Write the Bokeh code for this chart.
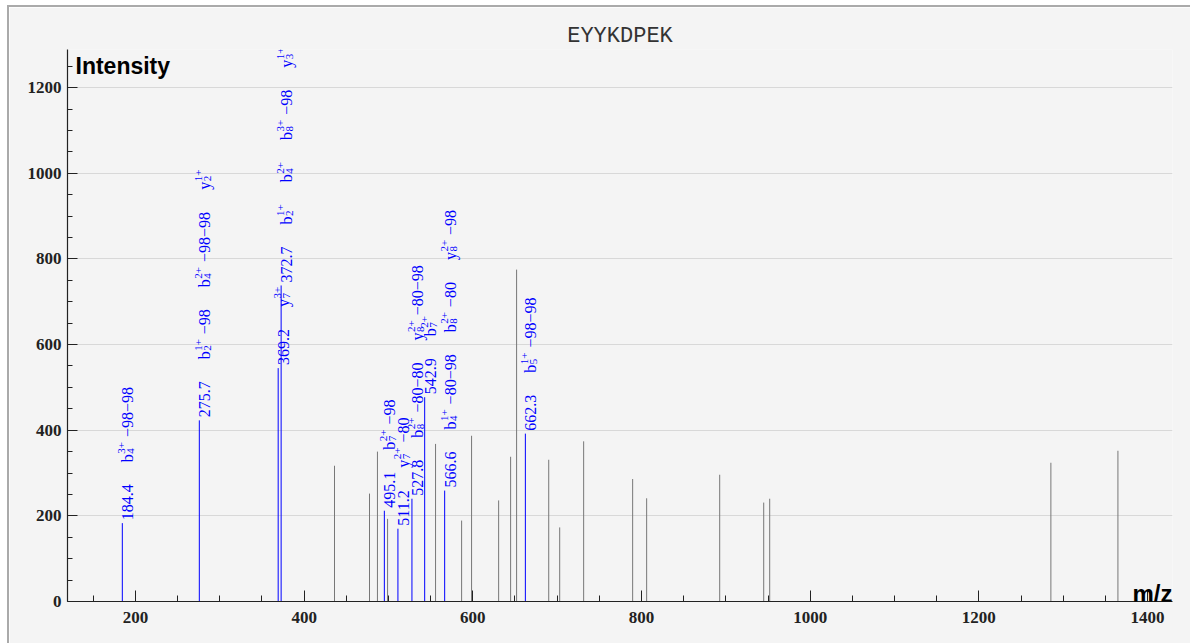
import numpy as np
from bokeh.plotting import figure
from bokeh.models import ColumnDataSource, Label, Range1d, SingleIntervalTicker
from bokeh.embed import file_html
from bokeh.resources import INLINE
from bokeh.core.properties import value

title_text = "EYYKDPEK"
x_label = "m/z"
y_label = "Intensity"

# unannotated peaks
other_mz = [436.0, 477.5, 486.9, 498.9, 555.8, 586.7, 598.5, 630.6, 644.8, 651.9,
            690.0, 703.0, 731.4, 789.5, 806.1, 892.7, 944.9, 952.0, 1285.4, 1364.9]
other_int = [317, 252, 350, 193, 368, 189, 387, 236, 338, 775,
             331, 173, 374, 286, 241, 296, 231, 240, 324, 352]

# annotated peaks
ann_mz = [184.4, 275.7, 369.2, 372.7, 495.1, 511.2, 527.8, 542.9, 566.6, 662.3]
ann_int = [183, 423, 545, 738, 212, 170, 240, 477, 259, 392]
# (ion, subscript, superscript, suffix)
ann_labels = [
    [("b", "4", "3+", "−98−98")],
    [("b", "2", "1+", "−98"), ("b", "4", "2+", "−98−98"), ("y", "2", "1+", "")],
    [("y", "7", "3+", "")],
    [("b", "2", "1+", ""), ("b", "4", "2+", ""), ("b", "8", "3+", "−98"), ("y", "3", "1+", "")],
    [("b", "7", "2+", "−98")],
    [("y", "7", "2+", "−80")],
    [("b", "8", "2+", "−80−80"), ("y", "8", "2+", "−80−98")],
    [("b", "7", "2+", "")],
    [("b", "4", "1+", "−80−98"), ("b", "8", "2+", "−80"), ("y", "8", "2+", "−98")],
    [("b", "5", "1+", "−98−98")],
]

x_ticks_interval = 200
y_ticks_interval = 200

BG = "#f4f4f4"
BLUE = "#0000ff"
GRAY = "#777777"
SERIF = "Liberation Serif"
MONO = "'Courier New', Courier, 'Nimbus Mono PS', FreeMono, 'Liberation Mono', monospace"

# character advance widths (em) for Liberation Serif
CW = {c: 0.5 for c in "0123456789by"}
CW.update({".": 0.25, "+": 0.564, "−": 0.564, " ": 0.25})


def tw(s, size):
    return sum(CW.get(c, 0.5) for c in s) * size


FS, SS = 16, 11      # main / script font size
START, GAP = 3, 22   # label start offset and gap between items
BASE = 5.5           # baseline shift so text is centred on the peak line
SUP, SUB = -6.0, 3.0  # script baseline shifts (screen x, rotated frame)

main = dict(x=[], y=[], text=[], xo=[], yo=[])
scr = dict(x=[], y=[], text=[], xo=[], yo=[])


def put(d, x, y, t, xo, along):
    d["x"].append(x)
    d["y"].append(y)
    d["text"].append(t)
    d["xo"].append(xo)
    d["yo"].append(-along)


for mz, it, labs in zip(ann_mz, ann_int, ann_labels):
    pos = START
    num = f"{mz:.1f}"
    put(main, mz, it, num, BASE, pos)
    pos += tw(num, FS) + GAP
    for ion, sub, sup, suf in labs:
        put(main, mz, it, ion, BASE, pos)
        pos += tw(ion, FS) + 0.5
        put(scr, mz, it, sup, BASE + SUP, pos)
        put(scr, mz, it, sub, BASE + SUB, pos)
        pos += max(tw(sup, SS), tw(sub, SS))
        if suf:
            pos += 5
            put(main, mz, it, suf, BASE, pos)
            pos += tw(suf, FS)
        pos += GAP

x0, x1 = 119.4, 1429.6
y0, y1 = 0, 1289

p = figure(width=1181, height=636, output_backend="svg", toolbar_location=None,
           x_range=Range1d(x0, x1), y_range=Range1d(y0, y1),
           min_border_left=58, min_border_right=18, min_border_top=42, min_border_bottom=42)
p.styles = {"margin-left": "9px", "margin-top": "7px", "outline": "2px solid #aaaaaa"}
p.background_fill_color = BG
p.border_fill_color = BG
p.outline_line_color = None

p.title.text = title_text
p.title.align = "center"
p.title.text_font = MONO
p.title.text_font_size = "22px"
p.title.text_font_style = "normal"
p.title.text_color = "#333333"
p.title.standoff = 1

p.segment(x0=other_mz, y0=[0] * len(other_mz), x1=other_mz, y1=other_int,
          line_color=GRAY, line_width=1)
p.segment(x0=ann_mz, y0=[0] * len(ann_mz), x1=ann_mz, y1=ann_int,
          line_color=BLUE, line_width=1)

src_main = ColumnDataSource(main)
src_scr = ColumnDataSource(scr)
p.text(x="x", y="y", text="text", x_offset="xo", y_offset="yo", source=src_main,
       angle=np.pi / 2, text_align="left", text_baseline="alphabetic",
       text_font=value(SERIF), text_font_size=f"{FS}px", text_color=BLUE)
p.text(x="x", y="y", text="text", x_offset="xo", y_offset="yo", source=src_scr,
       angle=np.pi / 2, text_align="left", text_baseline="alphabetic",
       text_font=value(SERIF), text_font_size=f"{SS}px", text_color=BLUE)

# axes
p.xaxis.ticker = SingleIntervalTicker(interval=x_ticks_interval, num_minor_ticks=4)
p.yaxis.ticker = SingleIntervalTicker(interval=y_ticks_interval, num_minor_ticks=4)
for ax in (p.xaxis, p.yaxis):
    ax.axis_line_color = "#222222"
    ax.axis_line_width = 1.2
    ax.major_tick_line_color = "#222222"
    ax.minor_tick_line_color = "#222222"
    ax.major_tick_out = 0
    ax.minor_tick_out = 0
    ax.major_label_text_font = SERIF
    ax.major_label_text_font_size = "17px"
    ax.major_label_text_font_style = "bold"
    ax.major_label_text_color = "#222222"
p.xaxis.major_tick_in = 11
p.xaxis.minor_tick_in = 6
p.yaxis.major_tick_in = 10
p.yaxis.minor_tick_in = 5
p.xaxis.major_label_standoff = 10
p.yaxis.major_label_standoff = 6

p.xgrid.grid_line_color = None
p.ygrid.grid_line_color = "#d8d8d8"
p.ygrid.grid_line_width = 1

p.add_layout(Label(x=x0, y=y1, x_offset=8, y_offset=-3, text=y_label,
                   text_font="Liberation Sans", text_font_style="bold",
                   text_font_size="23px", text_align="left", text_baseline="top",
                   text_color="#000000"))
p.add_layout(Label(x=x1, y=0, y_offset=8, text=x_label,
                   text_font="Liberation Sans", text_font_style="bold",
                   text_font_size="24px", text_align="right", text_baseline="alphabetic",
                   text_color="#000000"))

open("out.html", "w").write(file_html(p, INLINE))
